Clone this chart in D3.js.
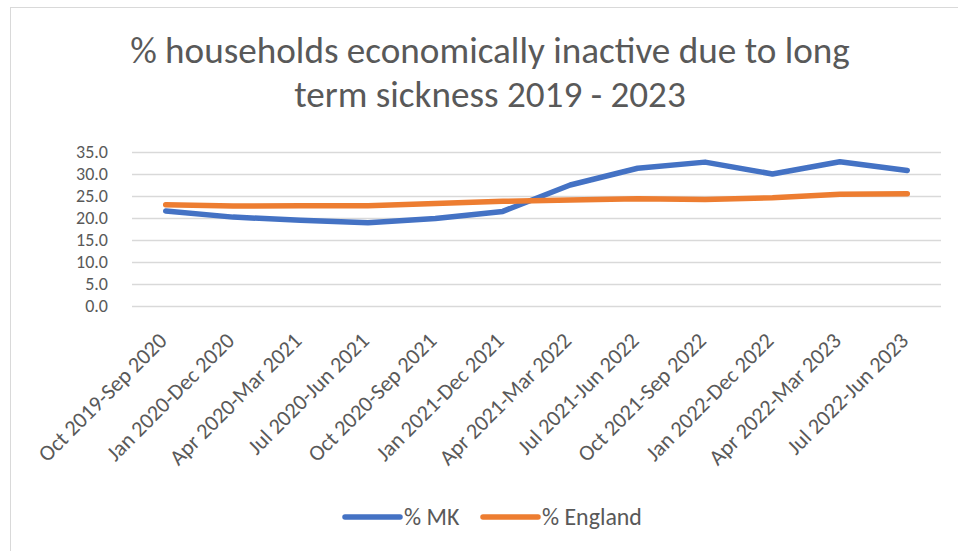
<!DOCTYPE html>
<html>
<head>
<meta charset="utf-8">
<script src="https://cdn.jsdelivr.net/npm/d3@7"></script>
<style>
  html, body { margin: 0; padding: 0; background: #fff; }
  svg { display: block; }
  text { font-family: Calibri, Carlito, Lato, "Open Sans", sans-serif; fill: #595959; }
</style>
</head>
<body>
<svg id="chart" width="958" height="551"></svg>
<script>
const titleLines = ["% households economically inactive due to long", "term sickness 2019 - 2023"];
const categories = [
  "Oct 2019-Sep 2020", "Jan 2020-Dec 2020", "Apr 2020-Mar 2021", "Jul 2020-Jun 2021",
  "Oct 2020-Sep 2021", "Jan 2021-Dec 2021", "Apr 2021-Mar 2022", "Jul 2021-Jun 2022",
  "Oct 2021-Sep 2022", "Jan 2022-Dec 2022", "Apr 2022-Mar 2023", "Jul 2022-Jun 2023"
];
const mkValues = [21.6, 20.2, 19.5, 18.9, 19.9, 21.5, 27.5, 31.3, 32.7, 30.0, 32.8, 30.8];
const englandValues = [23.0, 22.7, 22.8, 22.8, 23.3, 23.8, 24.1, 24.4, 24.2, 24.6, 25.4, 25.5];
const yTicks = [0, 5, 10, 15, 20, 25, 30, 35];
const seriesNames = ["% MK", "% England"];
const seriesColors = ["#4472C4", "#ED7D31"];

const svg = d3.select("#chart");

function fitFont(sel, target, base) {
  sel.style("font-size", base + "px");
  const w = sel.node().getComputedTextLength();
  const fs = base * target / w;
  sel.style("font-size", fs + "px");
  return fs;
}

svg.append("rect")
  .attr("x", 10.5).attr("y", 7.5)
  .attr("width", 990).attr("height", 600)
  .attr("fill", "none").attr("stroke", "#d9d9d9").attr("stroke-width", 1);

const plot = { left: 132, right: 941, top: 152, bottom: 306 };

const x = d3.scaleBand().domain(categories).range([plot.left, plot.right]).padding(0);
const y = d3.scaleLinear().domain([0, 35]).range([plot.bottom, plot.top]);

// title
const t1 = svg.append("text").attr("x", 490).attr("y", 63).attr("text-anchor", "middle")
  .style("font-weight", 300).text(titleLines[0]);
const titleSize = fitFont(t1, 720, 32);
svg.append("text").attr("x", 490).attr("y", 107).attr("text-anchor", "middle")
  .style("font-weight", 300).style("font-size", titleSize + "px").text(titleLines[1]);

// gridlines and y labels
const yAxis = d3.axisLeft(y).tickValues(yTicks).tickSize(-(plot.right - plot.left))
  .tickFormat(d3.format(".1f")).tickPadding(24);
const gy = svg.append("g").attr("transform", `translate(${plot.left},0)`).call(yAxis);
gy.select(".domain").remove();
gy.selectAll(".tick line").attr("stroke", "#d9d9d9").attr("stroke-width", 1.3);
gy.selectAll(".tick text").attr("fill", "#595959").style("font-size", "18px")
  .style("font-family", "Calibri, Carlito, Lato, sans-serif");

// x labels rotated
const gx = svg.append("g");
gx.selectAll("text").data(categories).enter().append("text")
  .attr("transform", d => `translate(${x(d) + x.bandwidth() / 2 + 2.5},342) rotate(-45)`)
  .attr("text-anchor", "end")
  .text(d => d);
const xFont = fitFont(gx.select("text"), 171, 20);
gx.selectAll("text").style("font-size", xFont + "px");

// lines
const line = d3.line()
  .x((d, i) => x(categories[i]) + x.bandwidth() / 2)
  .y(d => y(d));
[mkValues, englandValues].forEach((vals, k) => {
  svg.append("path").datum(vals)
    .attr("d", line)
    .attr("fill", "none")
    .attr("stroke", seriesColors[k])
    .attr("stroke-width", 5.5)
    .attr("stroke-linecap", "round")
    .attr("stroke-linejoin", "round");
});

// legend
const legendItems = [
  { name: seriesNames[0], color: seriesColors[0], x1: 345, x2: 400, tx: 404 },
  { name: seriesNames[1], color: seriesColors[1], x1: 483, x2: 538, tx: 542 }
];
const lg = svg.append("g");
legendItems.forEach(it => {
  lg.append("line").attr("x1", it.x1).attr("x2", it.x2).attr("y1", 517).attr("y2", 517)
    .attr("stroke", it.color).attr("stroke-width", 5.5).attr("stroke-linecap", "round");
});
const legTexts = legendItems.map(it => lg.append("text").attr("x", it.tx).attr("y", 525).text(it.name));
const legFont = fitFont(legTexts[1], 100, 20);
legTexts.forEach(t => t.style("font-size", legFont + "px"));
</script>
</body>
</html>
